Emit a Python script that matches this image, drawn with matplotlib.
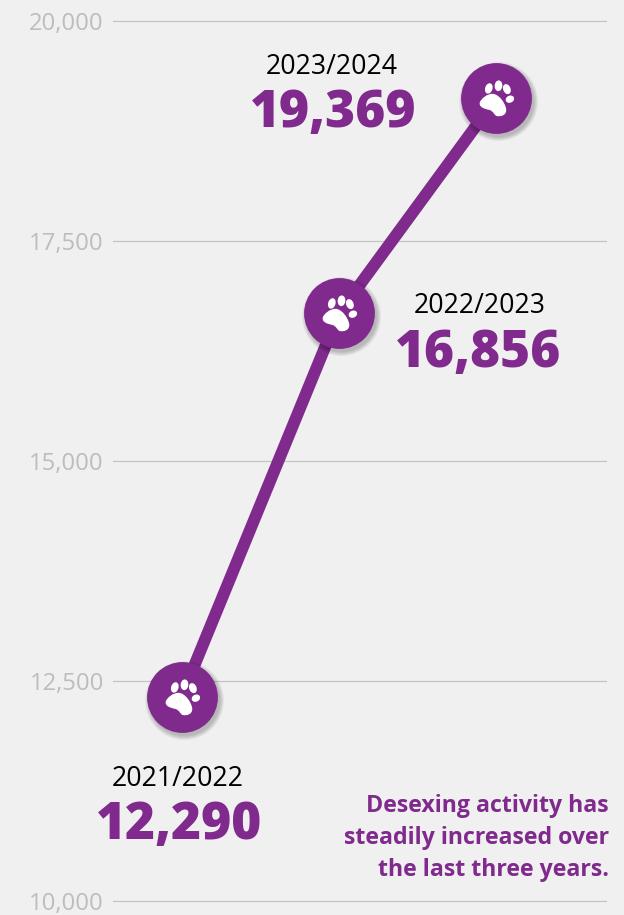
import numpy as np
import matplotlib
matplotlib.use("Agg")
import matplotlib.pyplot as plt
from matplotlib.path import Path
from matplotlib.transforms import Affine2D

# Data
periods = ["2021/2022", "2022/2023", "2023/2024"]
labels = ["12,290", "16,856", "19,369"]
plotted_values = [12320, 16680, 19125]  # heights as drawn in the reference
y_ticks = [10000, 12500, 15000, 17500, 20000]
note = "Desexing activity has\nsteadily increased over\nthe last three years."

PURPLE = "#7f2a8c"
BG = "#f0f0f0"
W, H = 624, 915

plt.rcParams["font.family"] = ["Open Sans", "DejaVu Sans"]
fig = plt.figure(figsize=(W / 100, H / 100), dpi=100, facecolor=BG)
ax = fig.add_axes([113 / W, 1 - 901 / H, (606 - 113) / W, (901 - 21) / H], facecolor=BG)
x = np.arange(len(periods))
ax.set_xlim(-68.5 / 157.5, 424.5 / 157.5)
ax.set_ylim(10000, 20000)
for s in ax.spines.values():
    s.set_visible(False)
ax.set_xticks([])
ax.set_yticks(y_ticks, [f"{v:,}" for v in y_ticks])
ax.tick_params(axis="y", length=0, pad=6.5, labelsize=17.2, labelcolor="#bdbdbd")
ax.grid(axis="y", color="#c4c4c4", lw=0.9)
ax.set_axisbelow(True)
for gl in ax.get_ygridlines():
    gl.set_clip_on(False)

ax.plot(x, plotted_values, color=PURPLE, lw=8.6, solid_capstyle="butt", zorder=2)

# Marker disc with soft shadow
for grow in [6, 5, 4, 3, 2, 1, 0]:
    ax.plot(x, plotted_values, "o", ms=51 + grow, mfc="#000000", mec="none",
            alpha=0.035, zorder=3,
            transform=ax.transData + Affine2D().translate(2, -3))
ax.plot(x, plotted_values, "o", ms=51, mfc=PURPLE, mec="none", zorder=4)


def blob(cx, cy, rx, ry, angle):
    t = Affine2D().scale(rx, ry).rotate_deg(angle).translate(cx, cy)
    return Path.unit_circle().transformed(t)


pad = Path(
    [(-50, -12), (-46, 0), (-28, 14), (-12, 14), (6, 14), (26, -12), (29, -32),
     (31, -50), (12, -56), (0, -52), (-8, -49), (-8, -38), (-22, -34), (-36, -31), (-53, -26), (-50, -12)],
    [Path.MOVETO] + [Path.CURVE4] * 15,
)
paw = Path.make_compound_path(
    pad,
    blob(-23, 30, 11, 16, -18),
    blob(6, 38, 11.5, 16, -5),
    blob(31, 28, 11, 15.5, 22),
    blob(40, -2, 13, 10.5, 25),
)
ax.plot(x, plotted_values, linestyle="none", marker=paw, ms=27, mfc="white", mec="none", zorder=5)


def put(px, py, s, **kw):
    fig.text(px / W, 1 - py / H, s, **kw)


text_pos = [(178, 779, 179, 826), (480, 306, 478, 353), (332, 67, 333, 114)]
for (tx, ty, nx, ny), p, lab in zip(text_pos, periods, labels):
    put(tx, ty, p, ha="center", va="center", fontsize=19.2, color="#000000")
    put(nx, ny, lab, ha="center", va="center", fontsize=37, fontweight="heavy", color=PURPLE)

put(609, 838, note, ha="right", va="center", fontsize=16.7, fontweight="bold",
    color=PURPLE, linespacing=1.44, multialignment="right")

fig.savefig("out.png", dpi=100, facecolor=BG)
